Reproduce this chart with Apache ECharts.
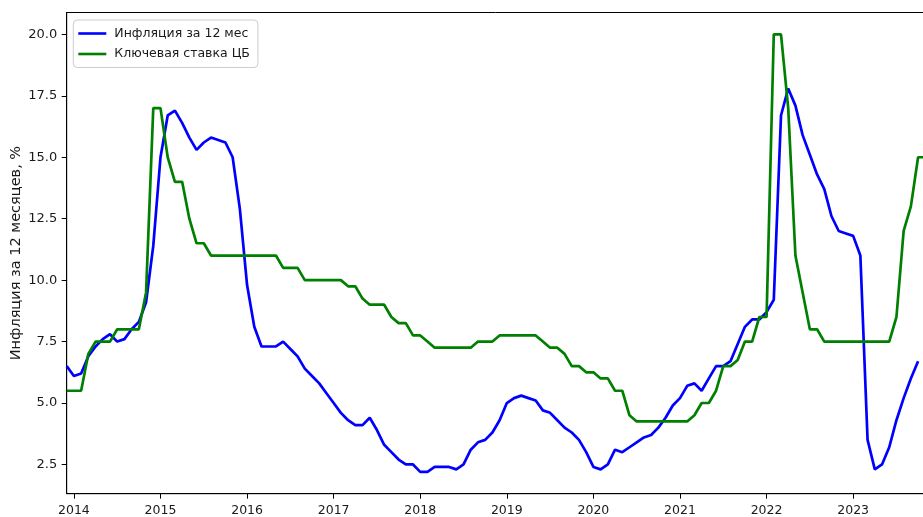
<!DOCTYPE html>
<html>
<head>
<meta charset="utf-8">
<script src="https://cdn.jsdelivr.net/npm/echarts@6/dist/echarts.min.js"></script>
<style>
html,body{margin:0;padding:0;background:#fff;overflow:hidden;}
#c{width:923px;height:517px;}
</style>
</head>
<body>
<div id="c"></div>
<script>
// Monthly data, Dec 2013 .. Nov 2023
const startYear = 2013, startMonth = 12, monthCount = 120;
const yTicks = [2.5, 5.0, 7.5, 10.0, 12.5, 15.0, 17.5, 20.0];
const seriesNames = ['Инфляция за 12 мес', 'Ключевая ставка ЦБ'];

const inflation = [
  6.5,
  6.1, 6.2, 6.9, 7.3, 7.6, 7.8, 7.5, 7.6, 8.0, 8.3, 9.1, 11.4,
  15.0, 16.7, 16.9, 16.4, 15.8, 15.3, 15.6, 15.8, 15.7, 15.6, 15.0, 12.9,
  9.8, 8.1, 7.3, 7.3, 7.3, 7.5, 7.2, 6.9, 6.4, 6.1, 5.8, 5.4,
  5.0, 4.6, 4.3, 4.1, 4.1, 4.4, 3.9, 3.3, 3.0, 2.7, 2.5, 2.5,
  2.2, 2.2, 2.4, 2.4, 2.4, 2.3, 2.5, 3.1, 3.4, 3.5, 3.8, 4.3,
  5.0, 5.2, 5.3, 5.2, 5.1, 4.7, 4.6, 4.3, 4.0, 3.8, 3.5, 3.0,
  2.4, 2.3, 2.5, 3.1, 3.0, 3.2, 3.4, 3.6, 3.7, 4.0, 4.4, 4.9,
  5.2, 5.7, 5.8, 5.5, 6.0, 6.5, 6.5, 6.7, 7.4, 8.1, 8.4, 8.4,
  8.7, 9.2, 16.7, 17.8, 17.1, 15.9, 15.1, 14.3, 13.7, 12.6, 12.0, 11.9,
  11.8, 11.0, 3.5, 2.3, 2.5, 3.2, 4.3, 5.2, 6.0, 6.7, null
];

const keyRate = [
  5.5,
  5.5, 5.5, 7.0, 7.5, 7.5, 7.5, 8.0, 8.0, 8.0, 8.0, 9.5, 17.0,
  17.0, 15.0, 14.0, 14.0, 12.5, 11.5, 11.5, 11.0, 11.0, 11.0, 11.0, 11.0,
  11.0, 11.0, 11.0, 11.0, 11.0, 10.5, 10.5, 10.5, 10.0, 10.0, 10.0, 10.0,
  10.0, 10.0, 9.75, 9.75, 9.25, 9.0, 9.0, 9.0, 8.5, 8.25, 8.25, 7.75,
  7.75, 7.5, 7.25, 7.25, 7.25, 7.25, 7.25, 7.25, 7.5, 7.5, 7.5, 7.75,
  7.75, 7.75, 7.75, 7.75, 7.75, 7.5, 7.25, 7.25, 7.0, 6.5, 6.5, 6.25,
  6.25, 6.0, 6.0, 5.5, 5.5, 4.5, 4.25, 4.25, 4.25, 4.25, 4.25, 4.25,
  4.25, 4.25, 4.5, 5.0, 5.0, 5.5, 6.5, 6.5, 6.75, 7.5, 7.5, 8.5,
  8.5, 20.0, 20.0, 17.0, 11.0, 9.5, 8.0, 8.0, 7.5, 7.5, 7.5, 7.5,
  7.5, 7.5, 7.5, 7.5, 7.5, 7.5, 8.5, 12.0, 13.0, 15.0, 15.0
];

const months = [];
for (let i = 0; i < monthCount; i++) {
  const t = (startMonth - 1) + i;
  const y = startYear + Math.floor(t / 12);
  const m = (t % 12) + 1;
  months.push(y + '-' + (m < 10 ? '0' + m : '' + m));
}

const isJan = (idx, v) => v.slice(5) === '01';
const txt = '#1a1a1a';
const fontFam = 'DejaVu Sans';

const chart = echarts.init(document.getElementById('c'), null, {renderer: 'canvas'});
chart.setOption({
  animation: false,
  backgroundColor: '#ffffff',
  grid: {
    left: 66.7, top: 12.5, right: -2.3, bottom: 23.3,
    containLabel: false, outerBoundsMode: 'none',
    show: true, borderColor: '#000', borderWidth: 1, backgroundColor: 'transparent'
  },
  legend: {
    left: 73.3, top: 20,
    orient: 'vertical',
    icon: 'rect',
    itemWidth: 28, itemHeight: 2.6, itemGap: 7.5,
    padding: [7, 8, 7, 5],
    backgroundColor: 'rgba(255,255,255,0.8)',
    borderColor: '#cccccc', borderWidth: 1, borderRadius: 4,
    textStyle: {fontFamily: fontFam, fontSize: 12.5, color: txt, padding: [0, 0, 0, 3]},
    data: seriesNames
  },
  xAxis: {
    type: 'category',
    data: months,
    boundaryGap: false,
    axisLine: {show: true, lineStyle: {color: '#000', width: 1}},
    axisTick: {show: true, interval: isJan, length: 5, lineStyle: {color: '#000', width: 1}},
    axisLabel: {
      interval: isJan, margin: 10.5,
      formatter: v => v.slice(0, 4),
      fontFamily: fontFam, fontSize: 12.5, color: txt
    },
    splitLine: {show: false}
  },
  yAxis: {
    type: 'value',
    min: 1.31, max: 20.89,
    name: 'Инфляция за 12 месяцев, %',
    nameLocation: 'middle',
    nameRotate: 90,
    nameGap: 43,
    nameMoveOverlap: false,
    nameTextStyle: {fontFamily: fontFam, fontSize: 14.5, color: txt},
    axisLine: {show: true, lineStyle: {color: '#000', width: 1}},
    axisTick: {show: true, customValues: yTicks, length: 5, lineStyle: {color: '#000', width: 1}},
    axisLabel: {
      customValues: yTicks, margin: 9.5,
      formatter: v => Number(v).toFixed(1),
      fontFamily: fontFam, fontSize: 13, color: txt
    },
    splitLine: {show: false}
  },
  series: [
    {
      name: seriesNames[0], type: 'line', data: inflation,
      symbol: 'none', showSymbol: false,
      lineStyle: {color: '#0000ff', width: 2.7},
      itemStyle: {color: '#0000ff'},
      connectNulls: false
    },
    {
      name: seriesNames[1], type: 'line', data: keyRate,
      symbol: 'none', showSymbol: false,
      lineStyle: {color: '#008000', width: 2.7},
      itemStyle: {color: '#008000'}
    }
  ]
});
</script>
</body>
</html>
